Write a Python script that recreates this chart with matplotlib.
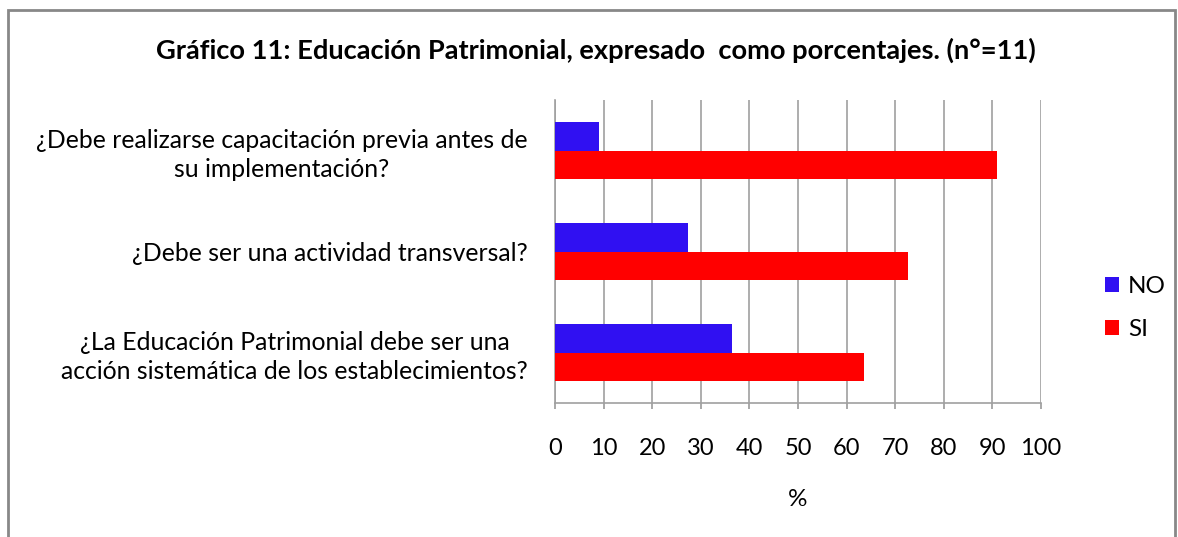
import matplotlib
matplotlib.use("Agg")
import matplotlib.pyplot as plt
import numpy as np
from matplotlib.patches import Rectangle

# datos
categorias = ["¿La Educación Patrimonial debe ser una\nacción sistemática de los establecimientos?",
              "¿Debe ser una actividad transversal?",
              "¿Debe realizarse capacitación previa antes de\nsu implementación?"]
no_vals = [36.36, 27.27, 9.09]
si_vals = [63.64, 72.73, 90.91]
x_ticks = [0, 10, 20, 30, 40, 50, 60, 70, 80, 90, 100]

plt.rcParams['font.family'] = ['Lato', 'DejaVu Sans']

fig = plt.figure(figsize=(11.78, 5.37), dpi=100)
ax = fig.add_axes([555/1178, 1 - 403/537, (1041-555)/1178, 303/537])

y = np.arange(len(categorias))
h = 0.285
ax.barh(y + h/2, no_vals, height=h, color='#3010F2', label='NO', zorder=3)
ax.barh(y - h/2, si_vals, height=h, color='#FF0000', label='SI', zorder=3)

ax.set_xlim(0, 100)
ax.set_ylim(-0.5, 2.5)
ax.set_xticks(x_ticks)
ax.set_xticklabels([str(t) for t in x_ticks], fontsize=17)
ax.set_yticks(y)
ax.set_yticklabels(categorias, fontsize=17.8, ha='right', multialignment='center',
                   linespacing=1.3)
ax.tick_params(axis='y', length=0, pad=19.5)
ax.tick_params(axis='x', length=4.5, color='#999999', width=1.2, pad=21)
ax.grid(axis='x', color='#a0a0a0', linewidth=1.2, zorder=0)
for s in ['top', 'right']:
    ax.spines[s].set_visible(False)
for s in ['left', 'bottom']:
    ax.spines[s].set_color('#a0a0a0')
    ax.spines[s].set_linewidth(1.2)

ax.set_xlabel('%', fontsize=17.5, labelpad=21)

fig.text(596/1178, 1 - 50/537,
         "Gráfico 11: Educación Patrimonial, expresado  como porcentajes. (n°=11)",
         ha='center', va='center', fontsize=19.6, fontweight='bold')

ax.legend(loc='center left', bbox_to_anchor=(1.087, 0.313), frameon=False,
          fontsize=17.5, handlelength=0.55, handleheight=0.55, labelspacing=0.9,
          handletextpad=0.4)

fig.patches.append(Rectangle((8/1178, -0.1), (1175-8)/1178, 1.1 - 10/537,
                             transform=fig.transFigure, fill=False,
                             edgecolor='#888888', linewidth=2))

fig.savefig('out.png', dpi=100)
